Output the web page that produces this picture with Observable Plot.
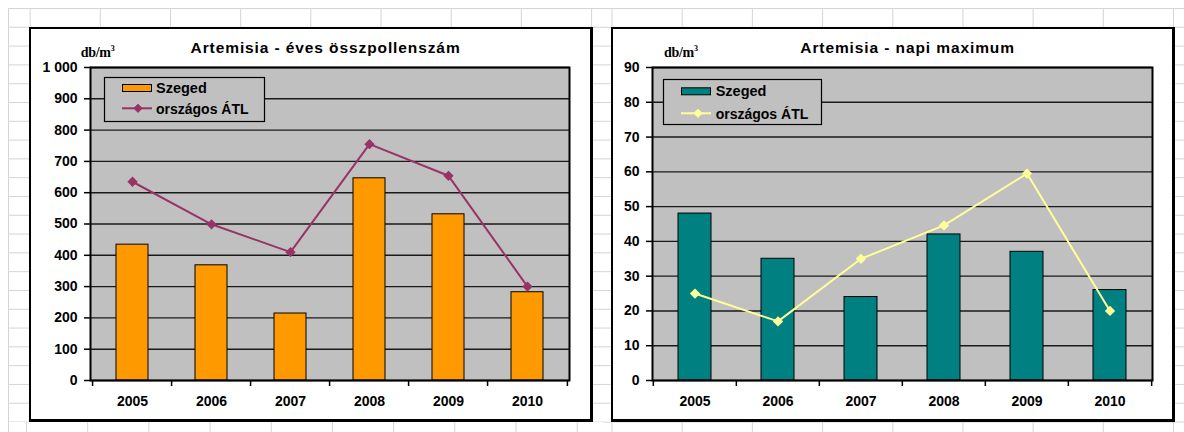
<!DOCTYPE html>
<html><head><meta charset="utf-8">
<script src="https://cdn.jsdelivr.net/npm/d3@7"></script>
<script src="https://cdn.jsdelivr.net/npm/@observablehq/plot@0.6"></script>
<style>
html,body{margin:0;padding:0;background:#fff;}
body{width:1184px;height:432px;position:relative;overflow:hidden;}
.sheet{position:absolute;}
#gl{left:8px;top:8px;width:595px;height:414px;
 background-image:linear-gradient(to bottom,#d4d4d4 0 1px,transparent 1px),linear-gradient(to right,#d4d4d4 0 1px,transparent 1px),linear-gradient(to right,#d4d4d4 0 1px,transparent 1px);
 background-size:100% 18.8px,70.2px 100%,100% 100%;
 background-position:0 0,21.6px 0,0 0;
 background-repeat:repeat,repeat,no-repeat;}
#gb{left:8px;top:422px;width:595px;height:10px;
 background-image:linear-gradient(to right,#d4d4d4 0 1px,transparent 1px),linear-gradient(to right,#d4d4d4 0 1px,transparent 1px);
 background-size:61.2px 100%,100% 100%;
 background-position:18px 0,0 0;
 background-repeat:repeat,no-repeat;}
#gr{left:603px;top:8px;width:581px;height:424px;
 background-image:linear-gradient(to bottom,#d4d4d4 0 1px,transparent 1px),linear-gradient(to right,#d4d4d4 0 1px,transparent 1px);
 background-size:100% 18.8px,70.2px 100%;
 background-position:0 0,8.5px 0;}
.box{position:absolute;top:27px;width:564px;height:395px;box-sizing:border-box;background:#fff;
 border-style:solid;border-color:#000;border-width:2px 3px 3px 2px;}
.box svg{display:block;}
</style>
</head>
<body>
<div class="sheet" id="gl"></div>
<div class="sheet" id="gb"></div>
<div class="sheet" id="gr"></div>
<div class="box" id="c1" style="left:29px"></div>
<div class="box" id="c2" style="left:611px"></div>
<script>
// ---- data ----
const years = ["2005", "2006", "2007", "2008", "2009", "2010"];
const szegedTotal = [434, 368, 214, 646, 531, 282];
const atlTotal = [635, 499, 410, 755, 654, 300];
const szegedMax = [48, 35, 24, 42, 37, 26];
const atlMax = [25, 17, 35, 44.6, 59.5, 20];
const yTicksTotal = [0, 100, 200, 300, 400, 500, 600, 700, 800, 900, 1000];
const yTicksMax = [0, 10, 20, 30, 40, 50, 60, 70, 80, 90];
const titleTotal = "Artemisia - éves összpollenszám";
const titleMax = "Artemisia - napi maximum";
const unitLabel = "db/m";
const seriesBar = "Szeged";
const seriesLine = "országos ÁTL";

const W = 559, H = 390, MT = 38, MB = 39;
const FONT = "'Liberation Sans', Arial, Helvetica, sans-serif";

function spaceFmt(d) { return d3.format(",")(d).replace(/,/g, " "); }

function chart(cfg) {
  const data = years.map((y, i) => ({year: y, bar: cfg.bars[i], line: cfg.line[i]}));
  const step = (W - cfg.ml - cfg.mr) / years.length;
  const node = Plot.plot({
    width: W, height: H,
    marginLeft: cfg.ml, marginRight: cfg.mr, marginTop: MT, marginBottom: MB,
    style: {fontFamily: FONT, fontSize: "14px", fontWeight: "bold", color: "#000", background: "transparent", overflow: "visible"},
    x: {type: "band", domain: years, paddingInner: 0.6, paddingOuter: 0.3},
    y: {domain: [cfg.ticks[0], cfg.ticks[cfg.ticks.length - 1]]},
    marks: [
      Plot.frame({fill: "#c0c0c0"}),
      Plot.ruleY(cfg.ticks, {stroke: "#1a1a1a", strokeWidth: 1.4}),
      Plot.barY(data, {x: "year", y: "bar", fill: cfg.barColor, stroke: "#000", strokeWidth: 1}),
      Plot.line(data, {x: "year", y: "line", stroke: cfg.lineColor, strokeWidth: 2}),
      Plot.dot(data, {x: "year", y: "line", symbol: "diamond2", r: 3.7, fill: cfg.lineColor, stroke: cfg.lineColor}),
      Plot.frame({stroke: "#000", strokeWidth: 2}),
      Plot.axisY({ticks: cfg.ticks, tickSize: 6, tickPadding: 7, tickFormat: cfg.fmt, label: null, stroke: "#000", strokeWidth: 1.5}),
      Plot.axisX({tickSize: 0, tickPadding: 16, label: null}),
      Plot.ruleX(years, {x: d => d, dx: -step / 2, y1: 0, y2: 0, insetBottom: -6, stroke: "#000", strokeWidth: 1.5}),
      Plot.ruleX(years.slice(-1), {x: d => d, dx: step / 2, y1: 0, y2: 0, insetBottom: -6, stroke: "#000", strokeWidth: 1.5})
    ]
  });
  const svg = d3.select(node);
  // title
  svg.append("text")
    .attr("x", 294.6).attr("y", 24.3).attr("text-anchor", "middle")
    .attr("letter-spacing", 0.9)
    .style("font-family", FONT).style("font-size", "15.5px").style("font-weight", "bold").attr("fill", "#000")
    .text(cfg.title);
  // unit
  const u = svg.append("text")
    .attr("x", cfg.unitX).attr("y", 28.3).attr("text-anchor", "start")
    .style("font-family", "'Liberation Serif', 'Times New Roman', serif").style("font-size", "14px").style("font-weight", "bold")
    .attr("letter-spacing", -0.3).attr("fill", "#000")
    .text(unitLabel);
  u.append("tspan").attr("dy", -6).style("font-size", "8px").text("3");
  // legend
  const L = cfg.legend;
  const g = svg.append("g").attr("text-anchor", "start");
  g.append("rect").attr("x", L.x + 0.5).attr("y", L.y + 0.5).attr("width", L.w).attr("height", L.h)
    .attr("fill", "#c0c0c0").attr("stroke", "#000").attr("stroke-width", 1.2);
  g.append("rect").attr("x", L.sx + 0.5).attr("y", L.sy + 0.5).attr("width", 29).attr("height", 7)
    .attr("fill", cfg.barColor).attr("stroke", "#000").attr("stroke-width", 1);
  g.append("line").attr("x1", L.sx).attr("x2", L.sx + 30).attr("y1", L.ly).attr("y2", L.ly)
    .attr("stroke", cfg.lineColor).attr("stroke-width", 2);
  g.append("path").attr("transform", `translate(${L.dx},${L.ly})`)
    .attr("d", d3.symbol(d3.symbolDiamond2, Math.PI * 3.7 * 3.7)())
    .attr("fill", cfg.lineColor).attr("stroke", cfg.lineColor);
  g.append("text").attr("x", L.tx).attr("y", L.sy + 8.5).attr("text-anchor", "start")
    .style("font-family", FONT).style("font-size", "14.5px").style("font-weight", "bold").attr("fill", "#000")
    .text(seriesBar);
  g.append("text").attr("x", L.tx).attr("y", L.ly + 5.2).attr("text-anchor", "start")
    .style("font-family", FONT).style("font-size", "14px").style("font-weight", "bold").attr("fill", "#000")
    .text(seriesLine);
  document.getElementById(cfg.el).appendChild(node);
}

chart({
  el: "c1", bars: szegedTotal, line: atlTotal, ticks: yTicksTotal, fmt: spaceFmt,
  barColor: "#ff9900", lineColor: "#993366", ml: 59, mr: 21, title: titleTotal, unitX: 49.7,
  legend: {x: 73, y: 48, w: 160, h: 44, sx: 91, sy: 55, ly: 79.3, dx: 107, tx: 125}
});
chart({
  el: "c2", bars: szegedMax, line: atlMax, ticks: yTicksMax, fmt: d => d,
  barColor: "#008080", lineColor: "#ffff99", ml: 39, mr: 20, title: titleMax, unitX: 51,
  legend: {x: 50, y: 50, w: 158, h: 45, sx: 68, sy: 58.3, ly: 84.3, dx: 85, tx: 102.7}
});
</script>
</body></html>
